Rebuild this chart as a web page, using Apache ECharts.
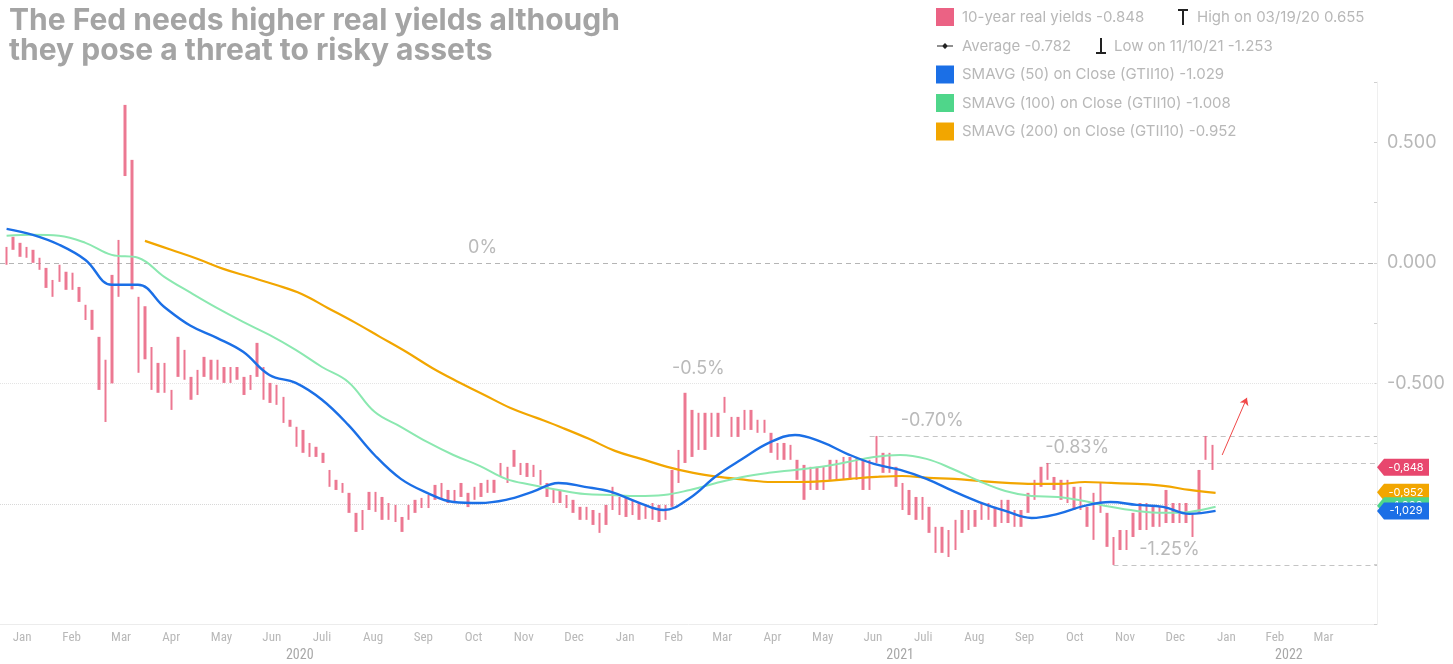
<!DOCTYPE html>
<html><head><meta charset="utf-8">
<script src="https://cdn.jsdelivr.net/npm/echarts@6/dist/echarts.min.js"></script>
<style>html,body{margin:0;padding:0;background:#fff}#chart{width:1453px;height:664px}</style>
</head><body><div id="chart"></div>
<script>
// ---------- data ----------
const titleText = 'The Fed needs higher real yields although\nthey pose a threat to risky assets';
const monthNames = ['Jan','Feb','Mar','Apr','May','Jun','Juli','Aug','Sep','Oct','Nov','Dec'];
const yTickLabels = [0.5, 0, -0.5];

// 10-year real yield, sampled every 4 calendar days from 2020-01-07 (range of each sample)
const sampleStart = '2020-01-07';
const sampleStepDays = 4;
const yieldHigh = [0.066,0.108,0.083,0.066,0.054,0.021,-0.021,-0.071,-0.008,-0.037,
-0.041,-0.100,-0.174,-0.195,-0.307,-0.402,-0.050,0.095,0.655,0.427,
-0.141,-0.180,-0.349,-0.415,-0.415,-0.527,-0.307,-0.361,-0.473,-0.444,
-0.390,-0.402,-0.402,-0.432,-0.432,-0.432,-0.473,-0.465,-0.332,-0.432,
-0.498,-0.506,-0.556,-0.651,-0.680,-0.693,-0.747,-0.763,-0.788,-0.859,
-0.900,-0.913,-0.954,-1.037,-1.025,-0.950,-0.950,-0.971,-0.996,-1.004,
-1.054,-1.004,-0.983,-0.975,-0.963,-0.921,-0.913,-0.942,-0.942,-0.913,
-0.954,-0.929,-0.913,-0.900,-0.900,-0.830,-0.846,-0.776,-0.830,-0.830,
-0.838,-0.859,-0.913,-0.942,-0.942,-0.963,-0.983,-1.012,-1.012,-1.025,
-1.037,-1.004,-0.929,-0.971,-0.971,-0.983,-0.996,-1.004,-0.996,-1.004,
-1.004,-0.859,-0.776,-0.539,-0.610,-0.622,-0.622,-0.622,-0.622,-0.556,
-0.639,-0.639,-0.610,-0.610,-0.651,-0.651,-0.705,-0.747,-0.747,-0.755,
-0.817,-0.838,-0.846,-0.846,-0.846,-0.817,-0.817,-0.805,-0.805,-0.805,
-0.817,-0.817,-0.718,-0.788,-0.788,-0.846,-0.913,-0.942,-0.971,-0.971,
-1.012,-1.095,-1.095,-1.108,-1.066,-1.025,-1.025,-1.025,-0.996,-0.996,
-1.012,-0.983,-0.983,-1.025,-1.025,-0.954,-0.900,-0.846,-0.830,-0.888,
-0.900,-0.900,-0.929,-0.929,-1.012,-0.954,-0.913,-1.037,-1.137,-1.108,
-1.108,-1.037,-0.996,-0.996,-1.012,-1.012,-0.942,-0.996,-0.996,-0.996,
-1.037,-0.859,-0.718,-0.755];
const yieldLow = [-0.008,0.054,0.025,0.021,0.000,-0.029,-0.104,-0.141,-0.079,-0.112,
-0.112,-0.162,-0.237,-0.278,-0.527,-0.660,-0.500,-0.141,0.360,-0.110,
-0.456,-0.400,-0.527,-0.539,-0.539,-0.610,-0.473,-0.485,-0.568,-0.548,
-0.473,-0.485,-0.485,-0.498,-0.498,-0.485,-0.548,-0.527,-0.473,-0.568,
-0.581,-0.589,-0.664,-0.680,-0.763,-0.788,-0.805,-0.805,-0.830,-0.929,
-0.942,-0.954,-1.037,-1.116,-1.108,-1.025,-1.033,-1.066,-1.066,-1.075,
-1.116,-1.066,-1.037,-1.017,-1.017,-0.983,-0.983,-0.996,-0.996,-0.971,
-1.013,-0.983,-0.971,-0.954,-0.954,-0.888,-0.913,-0.846,-0.880,-0.888,
-0.888,-0.921,-0.971,-0.996,-0.996,-1.017,-1.037,-1.066,-1.066,-1.087,
-1.120,-1.087,-1.025,-1.046,-1.054,-1.046,-1.066,-1.062,-1.066,-1.075,
-1.066,-1.012,-0.913,-0.830,-0.805,-0.776,-0.776,-0.722,-0.722,-0.622,
-0.722,-0.722,-0.693,-0.693,-0.705,-0.705,-0.788,-0.817,-0.817,-0.817,
-0.900,-0.983,-0.942,-0.942,-0.942,-0.900,-0.900,-0.900,-0.900,-0.900,
-0.942,-0.942,-0.830,-0.871,-0.871,-0.929,-1.025,-1.046,-1.066,-1.066,
-1.120,-1.203,-1.203,-1.220,-1.191,-1.120,-1.108,-1.095,-1.066,-1.066,
-1.095,-1.079,-1.079,-1.095,-1.095,-1.037,-0.983,-0.929,-0.900,-0.942,
-0.983,-0.996,-1.025,-1.025,-1.095,-1.149,-1.037,-1.178,-1.253,-1.191,
-1.191,-1.137,-1.108,-1.108,-1.095,-1.095,-1.079,-1.079,-1.079,-1.079,
-1.137,-1.037,-0.817,-0.859];

// moving averages, evenly spaced samples between the given dates
const smaStart = '2020-01-07', smaEnd = '2022-01-10';
const sma50 = [0.141,0.116,0.075,0.012,-0.091,-0.091,-0.183,-0.261,-0.311,-0.369,-0.465,-0.498,-0.568,-0.672,-0.797,-0.896,-0.954,-0.992,-0.996,-0.983,-0.950,-0.913,-0.929,-0.950,-0.992,-1.025,-0.975,-0.884,-0.813,-0.747,-0.714,-0.743,-0.793,-0.834,-0.859,-0.896,-0.946,-0.992,-1.029,-1.058,-1.041,-1.008,-0.992,-1.004,-1.012,-1.041,-1.029];
const sma100 = [0.112,0.116,0.112,0.083,0.033,0.021,-0.058,-0.124,-0.187,-0.245,-0.299,-0.361,-0.432,-0.494,-0.618,-0.680,-0.743,-0.797,-0.842,-0.896,-0.921,-0.942,-0.959,-0.963,-0.967,-0.963,-0.942,-0.913,-0.888,-0.871,-0.859,-0.846,-0.826,-0.805,-0.797,-0.813,-0.855,-0.905,-0.946,-0.967,-0.971,-0.988,-1.012,-1.029,-1.037,-1.033,-1.012];
const sma200Start = '2020-03-31', sma200End = '2022-01-10';
const sma200 = [0.091,0.054,0.017,-0.025,-0.058,-0.091,-0.129,-0.187,-0.245,-0.307,-0.369,-0.436,-0.494,-0.548,-0.602,-0.643,-0.685,-0.730,-0.780,-0.813,-0.846,-0.871,-0.888,-0.900,-0.909,-0.909,-0.905,-0.896,-0.888,-0.884,-0.892,-0.896,-0.905,-0.913,-0.917,-0.917,-0.909,-0.913,-0.917,-0.925,-0.942,-0.954];

// legend statistics
const lastYield = -0.848, avgYield = -0.782;
const highDate = '03/19/20', highVal = 0.655;
const lowDate = '11/10/21', lowVal = -1.253;
const lastSma50 = -1.029, lastSma100 = -1.008, lastSma200 = -0.952;

// annotation levels: [text, startDate, level, labelDate]
const levelNotes = [
  ['0%', null, 0, '2020-10-22'],
  ['-0.5%', null, -0.5, '2021-03-02'],
  ['-0.70%', '2021-06-14', -0.718, '2021-07-22'],
  ['-0.83%', '2021-09-29', -0.830, '2021-10-18'],
  ['-1.25%', '2021-11-09', -1.253, '2021-12-13']
];
const arrowFrom = ['2022-01-14', -0.797], arrowTo = ['2022-01-29', -0.560];
const axisMinDate = '2020-01-03', axisMaxDate = '2022-04-18';

// ---------- build ----------
const DAY = 86400000;
const ts = s => Date.parse(s + 'T00:00:00Z');
const xMin = ts(axisMinDate), xMax = ts(axisMaxDate);
const candleData = yieldHigh.map((h, i) => [ts(sampleStart) + i * sampleStepDays * DAY, yieldLow[i], h, yieldLow[i], h]);
function spread(arr, a, b) {
  const t0 = ts(a), t1 = ts(b), n = arr.length - 1;
  return arr.map((v, i) => [t0 + (t1 - t0) * i / n, v]);
}
const monthVals = [];
for (let k = 0; k < 27; k++) {
  const y = 2020 + Math.floor(k / 12), m = k % 12;
  monthVals.push((Date.UTC(y, m, 1) + Date.UTC(y, m + 1, 1)) / 2);
}
const yearVals = [2020, 2021, 2022].map(y => (Math.max(Date.UTC(y, 0, 1), xMin) + Math.min(Date.UTC(y + 1, 0, 1), xMax)) / 2);

const FONT = 'Inter, Roboto, sans-serif';
const NARROW = '"Liberation Sans Narrow", "Roboto Condensed", Roboto, sans-serif';
const GREY = '#b8b8b8';
const COL = {red: '#e8476e', blue: '#1b6fe6', green: '#4fd68a', greenLine: '#8be8b0', orange: '#f2a600'};
const tagSymbol = 'path://M0,8.5L7,0H52V17H7Z';
function tag(value, color, z) {
  return {
    symbol: tagSymbol, symbolSize: [52, 17], symbolOffset: [26, 0], silent: true, z: z,
    itemStyle: {color: color},
    label: {show: true, position: 'inside', offset: [3, 0], color: '#fff', fontSize: 11, fontFamily: FONT,
      formatter: () => value.toFixed(3).replace('.', ',')},
    data: [{coord: [xMax, value]}]
  };
}

const nameY = '10-year real yields ' + lastYield.toFixed(3);
const nameAvg = 'Average ' + avgYield.toFixed(3);
const nameHigh = 'High on ' + highDate + ' ' + highVal.toFixed(3);
const nameLow = 'Low on ' + lowDate + ' ' + lowVal.toFixed(3);
const name50 = 'SMAVG (50) on Close (GTII10) ' + lastSma50.toFixed(3);
const name100 = 'SMAVG (100) on Close (GTII10) ' + lastSma100.toFixed(3);
const name200 = 'SMAVG (200) on Close (GTII10) ' + lastSma200.toFixed(3);

const dashed = {color: '#c4c4c4', type: [5, 4], width: 1};
const markLines = [];
levelNotes.forEach(n => {
  const start = n[1] ? ts(n[1]) : xMin;
  let style = dashed;
  if (n[2] === -0.5) style = {color: '#e4e4e4', type: 'dotted', width: 1};
  if (n[2] === 0) style = {color: '#b5b5b5', type: [5, 4], width: 1};
  markLines.push([{coord: [start, n[2]], lineStyle: style}, {coord: [xMax, n[2]]}]);
});
markLines.push([{coord: [xMin, -1.0], lineStyle: {color: '#d8d8d8', type: 'dotted', width: 1}}, {coord: [xMax, -1.0]}]);
markLines.push([{coord: [ts(arrowFrom[0]), arrowFrom[1]], lineStyle: {color: '#f04848', width: 1, type: 'solid'}},
                {coord: [ts(arrowTo[0]), arrowTo[1]], symbol: 'arrow', symbolSize: 7}]);

const notePoints = levelNotes.map(n => ({
  coord: [ts(n[3]), n[2]],
  label: {formatter: n[0]}
}));

const legendText = {color: GREY, fontSize: 15, fontFamily: FONT, lineHeight: 18};
const option = {
  animation: false,
  backgroundColor: '#fff',
  title: {text: titleText, left: 4, top: 1,
    textStyle: {fontSize: 30, fontWeight: 'bold', color: '#a4a4a4', fontFamily: FONT, lineHeight: 30}},
  grid: {left: 0, right: 76, top: 82, bottom: 39.5, containLabel: false},
  legend: [
    {left: 936, top: 8, padding: 0, itemWidth: 18, itemHeight: 18, textStyle: Object.assign({padding: [0,0,0,3]}, legendText),
      selectedMode: false, data: [{name: nameY, icon: 'rect', itemStyle: {color: COL.red}}]},
    {left: 1178, top: 8, padding: 0, itemWidth: 10, itemHeight: 16, textStyle: Object.assign({padding: [0,0,0,4]}, legendText),
      selectedMode: false, data: [{name: nameHigh, icon: 'path://M0,0H10V2H6V16H4V2H0Z', itemStyle: {color: '#222'}}]},
    {left: 937, top: 37, padding: 0, itemWidth: 16, itemHeight: 8, textStyle: Object.assign({padding: [0,0,0,4]}, legendText),
      selectedMode: false, data: [{name: nameAvg, icon: 'path://M0,3.5H5.5L8,1L10.5,3.5H16V4.5H10.5L8,7L5.5,4.5H0Z', itemStyle: {color: '#222'}}]},
    {left: 1096, top: 37, padding: 0, itemWidth: 10, itemHeight: 16, textStyle: Object.assign({padding: [0,0,0,3]}, legendText),
      selectedMode: false, data: [{name: nameLow, icon: 'path://M4,0H6V14H10V16H0V14H4Z', itemStyle: {color: '#222'}}]},
    {left: 936, top: 65.5, padding: 0, orient: 'vertical', itemGap: 10.5, itemWidth: 18, itemHeight: 18,
      textStyle: Object.assign({padding: [0,0,0,3]}, legendText), selectedMode: false,
      data: [{name: name50, icon: 'rect', itemStyle: {color: COL.blue}},
             {name: name100, icon: 'rect', itemStyle: {color: COL.green}},
             {name: name200, icon: 'rect', itemStyle: {color: COL.orange}}]}
  ],
  xAxis: [
    {type: 'value', min: xMin, max: xMax, position: 'bottom', scale: true,
      axisLine: {show: true, onZero: false, lineStyle: {color: '#ececec'}},
      axisTick: {show: false}, splitLine: {show: false},
      axisLabel: {customValues: monthVals, margin: 7, color: GREY, fontSize: 13, fontFamily: NARROW,
        formatter: v => monthNames[new Date(v).getUTCMonth()]}},
    {type: 'value', min: xMin, max: xMax, position: 'bottom', scale: true,
      axisLine: {show: false}, axisTick: {show: false}, splitLine: {show: false},
      axisLabel: {customValues: yearVals, margin: 24, color: '#a8a8a8', fontSize: 14, fontFamily: NARROW,
        formatter: v => String(new Date(v).getUTCFullYear())}}
  ],
  yAxis: {type: 'value', position: 'right', min: -1.5, max: 0.75, interval: 0.25,
    axisLine: {show: true, lineStyle: {color: '#efefef'}},
    axisTick: {show: true, inside: true, length: 3, lineStyle: {color: '#d0d0d0'}},
    splitLine: {show: false},
    axisLabel: {margin: 10, color: GREY, fontSize: 18, fontFamily: FONT,
      formatter: v => yTickLabels.some(t => Math.abs(t - v) < 1e-9) ? v.toFixed(3) : ''}},
  series: [
    {name: nameY, type: 'candlestick', data: candleData, barWidth: 3, z: 2,
      itemStyle: {color: '#e9607f', color0: '#e9607f', borderColor: '#e9607f', borderColor0: '#e9607f', borderWidth: 0, opacity: 0.85},
      markLine: {silent: true, symbol: ['none', 'none'], label: {show: false}, data: markLines, z: 1},
      markPoint: {silent: true, symbol: 'circle', symbolSize: 0, data: notePoints,
        label: {show: true, position: 'inside', offset: [0, -15], color: '#bababa', fontSize: 18, fontFamily: FONT}}},
    {name: '_tagY', type: 'line', data: [], markPoint: tag(lastYield, COL.red, 10)},
    {name: name200, type: 'line', data: spread(sma200, sma200Start, sma200End), smooth: 0.4, showSymbol: false, z: 3,
      lineStyle: {color: COL.orange, width: 2.2}, itemStyle: {color: COL.orange}, markPoint: tag(lastSma200, COL.orange, 10)},
    {name: name100, type: 'line', data: spread(sma100, smaStart, smaEnd), smooth: 0.4, showSymbol: false, z: 3,
      lineStyle: {color: COL.greenLine, width: 2}, itemStyle: {color: COL.green}, markPoint: tag(lastSma100, COL.green, 11)},
    {name: name50, type: 'line', data: spread(sma50, smaStart, smaEnd), smooth: 0.4, showSymbol: false, z: 4,
      lineStyle: {color: COL.blue, width: 2.4}, itemStyle: {color: COL.blue}, markPoint: tag(lastSma50, COL.blue, 12)},
    {name: nameAvg, type: 'line', data: [], itemStyle: {color: '#222'}},
    {name: nameHigh, type: 'line', data: [], itemStyle: {color: '#222'}},
    {name: nameLow, type: 'line', data: [], itemStyle: {color: '#222'}}
  ]
};
const chart = echarts.init(document.getElementById('chart'), null, {renderer: 'canvas'});
chart.setOption(option);
</script></body></html>
